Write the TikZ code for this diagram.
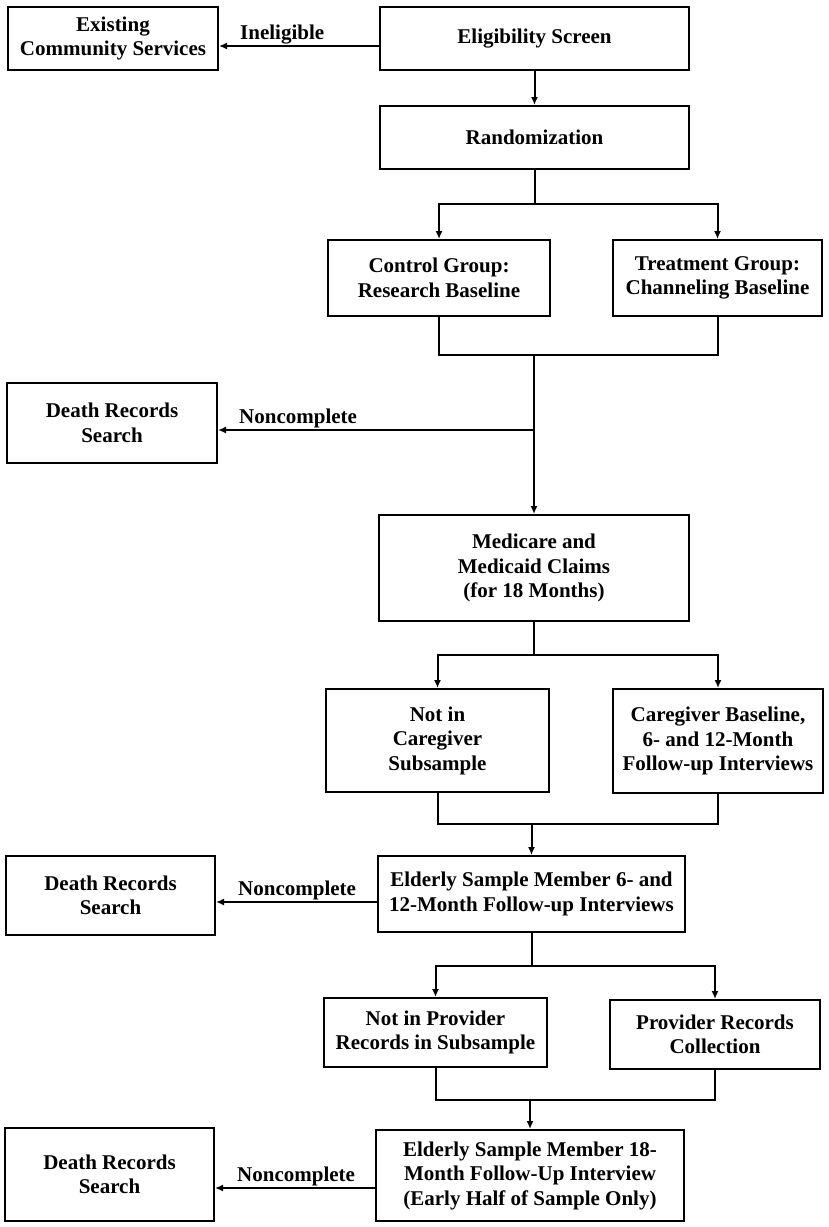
\documentclass[tikz,border=0pt]{standalone}
\usepackage{fontspec}
\setmainfont{Liberation Serif}
\usetikzlibrary{arrows.meta}
\tikzset{
  box/.style={draw=black, line width=2pt, inner sep=0pt, align=center,
    font=\fontsize{21}{24.5}\selectfont\bfseries},
  lbl/.style={inner sep=0pt, font=\fontsize{21}{24.5}\selectfont\bfseries},
  link/.style={draw=black, line width=2pt},
  arr/.style={link, -{Latex[length=8pt,width=7pt]}}
}
\begin{document}
\begin{tikzpicture}[x=1pt,y=-1pt]
\useasboundingbox (0,0) rectangle (828,1227);
% boxes
\node[box, minimum width=210pt, minimum height=63pt] (ecs) at (113,38.5) {Existing\\Community Services};
\node[box, minimum width=309pt, minimum height=63pt] (elig) at (534.5,38.5) {Eligibility Screen};
\node[box, minimum width=309pt, minimum height=63pt] (rand) at (534.5,137.5) {Randomization};
\node[box, minimum width=222pt, minimum height=76pt] (ctrl) at (439,278) {Control Group:\\Research Baseline};
\node[box, minimum width=209pt, minimum height=76pt] (treat) at (717.5,278) {Treatment Group:\\Channeling Baseline};
\node[box, minimum width=210pt, minimum height=80pt] (death1) at (112,423) {Death Records\\Search};
\node[box, minimum width=310pt, minimum height=106pt] (med) at (534,568) {Medicare and\\Medicaid Claims\\(for 18 Months)};
\node[box, minimum width=223pt, minimum height=103pt] (notcg) at (437.5,740.5) {Not in\\Caregiver\\Subsample};
\node[box, minimum width=210pt, minimum height=104pt] (cgb) at (718,741) {Caregiver Baseline,\\6- and 12-Month\\Follow-up Interviews};
\node[box, minimum width=209pt, minimum height=79pt] (death2) at (110.5,895.5) {Death Records\\Search};
\node[box, minimum width=307pt, minimum height=76pt] (eld6) at (531.5,894) {Elderly Sample Member 6- and\\12-Month Follow-up Interviews};
\node[box, minimum width=223pt, minimum height=69pt] (notpr) at (435.5,1032.5) {Not in Provider\\Records in Subsample};
\node[box, minimum width=210pt, minimum height=69pt] (prc) at (715,1034.5) {Provider Records\\Collection};
\node[box, minimum width=209pt, minimum height=93pt] (death3) at (109.5,1174.5) {Death Records\\Search};
\node[box, minimum width=308pt, minimum height=91pt] (eld18) at (530,1175.5) {Elderly Sample Member 18-\\Month Follow-Up Interview\\(Early Half of Sample Only)};
% junctions
\coordinate (j1) at (534.5,204);
\coordinate (m1) at (534,355);
\coordinate (n1) at (534,430);
\coordinate (j2) at (534,655);
\coordinate (m2) at (531.5,824);
\coordinate (j3) at (531.5,966);
\coordinate (m3) at (530,1100);
% top
\draw[arr] ([yshift=-7.5pt]elig.west) coordinate (a0) -- (a0 -| ecs.east);
\node[lbl, anchor=base west] (ine) at (240,39) {Ineligible};
\draw[arr] (elig.south) -- (rand.north);
\draw[link] (rand.south) -- (j1);
\draw[arr] (j1) -| (ctrl.north);
\draw[arr] (j1) -| (treat.north);
\draw[link] (ctrl.south) |- (m1);
\draw[link] (treat.south) |- (m1);
\draw[arr] (m1) -- (med.north);
\draw[arr] (n1) -- (n1 -| death1.east);
\node[lbl, anchor=base west] (nc1) at (239,423) {Noncomplete};
% middle
\draw[link] (med.south) -- (j2);
\draw[arr] (j2) -| (notcg.north);
\draw[arr] (j2) -| (cgb.north);
\draw[link] (notcg.south) |- (m2);
\draw[link] (cgb.south) |- (m2);
\draw[arr] (m2) -- (eld6.north);
\draw[arr] ([yshift=-8pt]eld6.west) coordinate (a2) -- (a2 -| death2.east);
\node[lbl, anchor=base west] (nc2) at (238,895) {Noncomplete};
% bottom
\draw[link] (eld6.south) -- (j3);
\draw[arr] (j3) -| (notpr.north);
\draw[arr] (j3) -| (prc.north);
\draw[link] (notpr.south) |- (m3);
\draw[link] (prc.south) |- (m3);
\draw[arr] (m3) -- (eld18.north);
\draw[arr] ([yshift=-12.5pt]eld18.west) coordinate (a3) -- (a3 -| death3.east);
\node[lbl, anchor=base west] (nc3) at (237,1181) {Noncomplete};
\end{tikzpicture}
\end{document}
